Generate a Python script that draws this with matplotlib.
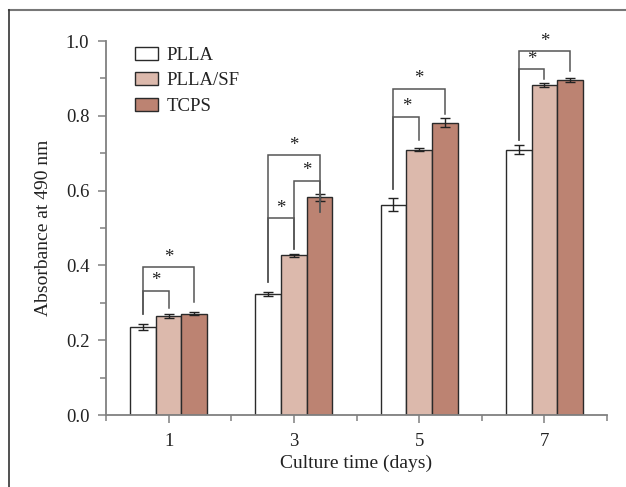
import numpy as np
import matplotlib.pyplot as plt
from matplotlib.patches import Patch
from matplotlib.lines import Line2D

plt.rcParams['font.family'] = ['Liberation Serif', 'DejaVu Serif']

days = [1, 3, 5, 7]
labels = ['PLLA', 'PLLA/SF', 'TCPS']
plla = [0.234, 0.323, 0.562, 0.709]
plla_sf = [0.265, 0.427, 0.709, 0.882]
tcps = [0.271, 0.582, 0.782, 0.896]
plla_err = [0.008, 0.006, 0.017, 0.012]
plla_sf_err = [0.006, 0.004, 0.004, 0.006]
tcps_err = [0.004, 0.010, 0.012, 0.006]

# significance brackets: (day index, bar a, bar b, top, leg a bottom, leg b bottom)
brackets = [
    (0, 0, 2, 0.395, 0.269, 0.301),
    (0, 0, 1, 0.332, 0.269, 0.285),
    (1, 0, 2, 0.694, 0.356, 0.544),
    (1, 1, 2, 0.626, 0.443, 0.544),
    (1, 0, 1, 0.526, 0.356, 0.443),
    (2, 0, 2, 0.872, 0.603, 0.804),
    (2, 0, 1, 0.798, 0.603, 0.735),
    (3, 0, 2, 0.973, 0.735, 0.920),
    (3, 0, 1, 0.925, 0.735, 0.898),
]

colors = ['#ffffff', '#dcb9ac', '#bc8372']
txt = '#222222'
gray = '#808080'

fig = plt.figure(figsize=(6.26, 4.87), dpi=100)
ax = fig.add_axes([106/626, 1-415/487, 501/626, 374/487])

w = 0.41
offs = [-w, 0, w]
vals = [plla, plla_sf, tcps]
errs = [plla_err, plla_sf_err, tcps_err]
x = np.array(days, dtype=float)
for k in range(3):
    ax.bar(x + offs[k], vals[k], width=w, color=colors[k], edgecolor='#2a2a2a',
           linewidth=1.0, zorder=2)
    ax.errorbar(x + offs[k], vals[k], yerr=errs[k], fmt='none', ecolor='#222222',
                elinewidth=1.0, capsize=3.5, capthick=1.0, zorder=3)

for g, a, b, top, la, lb in brackets:
    xa = days[g] + offs[a]
    xb = days[g] + offs[b]
    ax.plot([xa, xa, xb, xb], [la, top, top, lb], color='#555555', lw=1.1,
            solid_joinstyle='miter', zorder=4)
    ax.text((xa + xb) / 2, top + 0.004, '*', ha='center', va='bottom',
            fontsize=13.5, color=txt, zorder=5)

ax.set_xlim(0, 8)
ax.set_ylim(0, 1.0)
ax.set_xticks(days)
ax.set_xticks([0, 2, 4, 6, 8], minor=True)
ax.set_yticks([0, 0.2, 0.4, 0.6, 0.8, 1.0])
ax.set_yticklabels(['0.0', '0.2', '0.4', '0.6', '0.8', '1.0'])
ax.set_yticks([0.1, 0.3, 0.5, 0.7, 0.9], minor=True)
ax.tick_params(axis='both', which='major', length=6, width=1.1, color=gray,
               labelsize=13.5, labelcolor=txt)
ax.tick_params(axis='y', which='major', pad=6)
ax.tick_params(axis='x', which='major', pad=7)
ax.tick_params(axis='both', which='minor', length=4, width=1.1, color=gray)
for s in ['top', 'right']:
    ax.spines[s].set_visible(False)
for s in ['left', 'bottom']:
    ax.spines[s].set_color(gray)
    ax.spines[s].set_linewidth(1.3)

ax.set_xlabel('Culture time (days)', fontsize=14, color=txt, labelpad=3)
ax.set_ylabel('Absorbance at 490 nm', fontsize=14, color=txt, labelpad=10)

handles = [Patch(facecolor=colors[k], edgecolor='#2a2a2a', linewidth=1.0) for k in range(3)]
ax.legend(handles, labels, loc='upper left', bbox_to_anchor=(0.058, 0.985),
          frameon=False, fontsize=13.5, handlelength=1.2, handleheight=0.7,
          handletextpad=0.5, labelspacing=0.45, borderpad=0, borderaxespad=0,
          labelcolor=txt)

# outer frame (top and left edges visible)
fig.add_artist(Line2D([9/626, 1.0], [1-10/487, 1-10/487], transform=fig.transFigure,
                      color='#777777', lw=1.5))
fig.add_artist(Line2D([9/626, 9/626], [0, 1-10/487], transform=fig.transFigure,
                      color='#333333', lw=1.2))

fig.savefig('out.png', dpi=100)
